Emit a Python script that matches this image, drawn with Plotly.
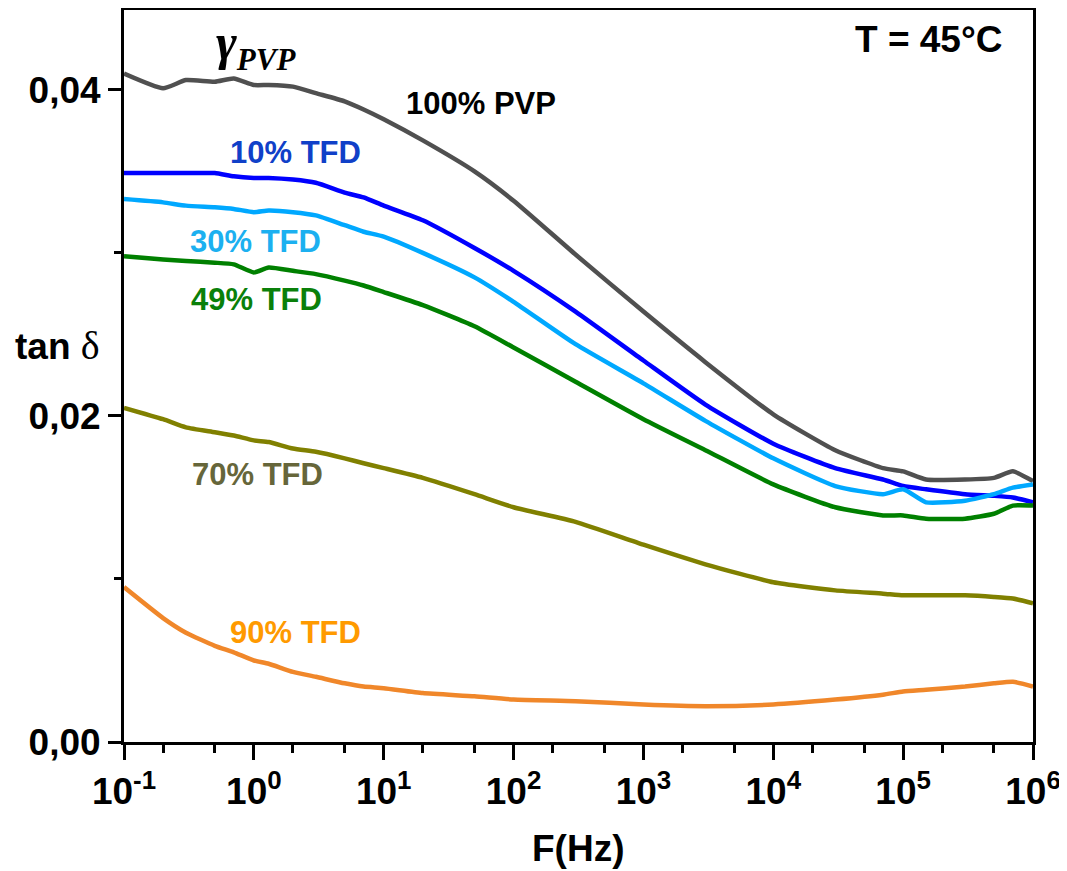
import plotly.graph_objects as go

freq = [0.1, 0.2, 0.3, 0.5, 0.7, 1, 1.3, 2, 3, 5, 7, 10, 20, 50, 100, 300, 1000, 3000,
        1e4, 3e4, 7e4, 1e5, 1.5e5, 3e5, 5e5, 7e5, 1e6]

pvp100 = [0.0410, 0.0401, 0.0406, 0.0405, 0.0407, 0.0403, 0.0403, 0.0402, 0.0398, 0.0393, 0.0388,
          0.0382, 0.0369, 0.0350, 0.0332, 0.0299, 0.0264, 0.0233, 0.0201, 0.0179, 0.0168, 0.0166,
          0.0161, 0.0161, 0.0162, 0.0166, 0.0160]
tfd10 = [0.0349, 0.0349, 0.0349, 0.0349, 0.0347, 0.0346, 0.0346, 0.0345, 0.0343, 0.0337, 0.0334,
         0.0329, 0.0320, 0.0303, 0.0289, 0.0264, 0.0234, 0.0207, 0.0183, 0.0168, 0.0161, 0.0157,
         0.0155, 0.0152, 0.0151, 0.0150, 0.0147]
tfd30 = [0.0333, 0.0331, 0.0329, 0.0328, 0.0327, 0.0325, 0.0326, 0.0325, 0.0323, 0.0317, 0.0313,
         0.0310, 0.0300, 0.0285, 0.0270, 0.0244, 0.0220, 0.0197, 0.0174, 0.0157, 0.0152, 0.0155,
         0.0147, 0.0148, 0.0152, 0.0156, 0.0158]
tfd49 = [0.0298, 0.0296, 0.0295, 0.0294, 0.0293, 0.0288, 0.0291, 0.0289, 0.0287, 0.0283, 0.0280,
         0.0276, 0.0268, 0.0255, 0.0242, 0.0221, 0.0198, 0.0179, 0.0158, 0.0144, 0.0139, 0.0139,
         0.0137, 0.0137, 0.0140, 0.0145, 0.0145]
tfd70 = [0.0205, 0.0198, 0.0193, 0.0190, 0.0188, 0.0185, 0.0184, 0.0180, 0.0178, 0.0174, 0.0171,
         0.0168, 0.0162, 0.0152, 0.0144, 0.0135, 0.0121, 0.0109, 0.0098, 0.0093, 0.0091, 0.0090,
         0.0090, 0.0090, 0.0089, 0.0088, 0.0085]
tfd90 = [0.0095, 0.0076, 0.0067, 0.0059, 0.0055, 0.0050, 0.0048, 0.0043, 0.0040, 0.0036, 0.0034,
         0.0033, 0.0030, 0.0028, 0.0026, 0.0025, 0.0023, 0.0022, 0.0023, 0.0026, 0.0029, 0.0031,
         0.0032, 0.0034, 0.0036, 0.0037, 0.0034]

series = [
    ("100% PVP", pvp100, "#505050"),
    ("10% TFD", tfd10, "#0000FF"),
    ("30% TFD", tfd30, "#00A8FF"),
    ("49% TFD", tfd49, "#008000"),
    ("70% TFD", tfd70, "#808000"),
    ("90% TFD", tfd90, "#F0872A"),
]

x_tickvals = [0.1, 1, 10, 100, 1000, 1e4, 1e5, 1e6]
x_ticktext = ["10<sup>-1</sup>", "10<sup>0</sup>", "10<sup>1</sup>", "10<sup>2</sup>",
              "10<sup>3</sup>", "10<sup>4</sup>", "10<sup>5</sup>", "10<sup>6</sup>"]
y_tickvals = [0.0, 0.02, 0.04]
y_ticktext = ["0,00", "0,02", "0,04"]
y_minor = [0.01, 0.03]

labels = [
    ("100% PVP", 0.393, 0.872, "#000000"),
    ("10% TFD", 0.189, 0.806, "#1040C8"),
    ("30% TFD", 0.145, 0.684, "#1CB0F0"),
    ("49% TFD", 0.146, 0.605, "#0A800A"),
    ("70% TFD", 0.147, 0.365, "#66663A"),
    ("90% TFD", 0.189, 0.149, "#FF9A00"),
]

FONT = "Arial, Liberation Sans, sans-serif"
SERIF = "Liberation Serif, Times New Roman, serif"

fig = go.Figure()
for name, vals, col in series:
    fig.add_trace(go.Scatter(x=freq, y=vals, mode="lines", name=name,
                             line=dict(color=col, width=4.5, shape="spline", smoothing=0.5),
                             showlegend=False))

for txt, xp, yp, col in labels:
    fig.add_annotation(x=xp, y=yp, xref="paper", yref="paper", text=txt, showarrow=False,
                       xanchor="center", yanchor="middle",
                       font=dict(family=FONT, size=31, color=col, weight="bold"))

fig.add_annotation(x=0.145, y=0.952, xref="paper", yref="paper",
                   text="<i>γ<sub><span style='font-size:31px'>PVP</span></sub></i>",
                   showarrow=False, xanchor="center", yanchor="middle",
                   font=dict(family=SERIF, size=50, color="black", weight="bold"))
fig.add_annotation(x=0.885, y=0.960, xref="paper", yref="paper", text="T = 45°C", showarrow=False,
                   xanchor="center", yanchor="middle",
                   font=dict(family=FONT, size=37, color="black", weight="bold"))
fig.add_annotation(x=-0.0737, y=0.542, xref="paper", yref="paper",
                   text="<b>tan</b> <span style='font-family:Liberation Serif;font-size:40px'>δ</span>",
                   showarrow=False, xanchor="center", yanchor="middle",
                   font=dict(family=FONT, size=37, color="black"))
fig.add_annotation(x=0.4995, y=-0.145, xref="paper", yref="paper", text="F(Hz)", showarrow=False,
                   xanchor="center", yanchor="middle",
                   font=dict(family=FONT, size=37, color="black", weight="bold"))

# page body has an 8px margin: size the figure so the plot area lands where the reference has it
fig.update_layout(
    width=1059, height=863,
    margin=dict(l=116, r=34, t=2, b=129, autoexpand=False),
    plot_bgcolor="white", paper_bgcolor="white",
    font=dict(family=FONT, color="black"),
)
fig.update_xaxes(
    type="log", range=[-1, 6],
    showline=True, linecolor="black", linewidth=3, mirror=True,
    showgrid=False, zeroline=False,
    ticks="outside", ticklen=15, tickwidth=3, tickcolor="black",
    tickvals=x_tickvals, ticktext=x_ticktext,
    tickfont=dict(family=FONT, size=37, color="black", weight="bold"),
    minor=dict(ticks="outside", ticklen=8, tickwidth=2.5, tickcolor="black", showgrid=False),
)
fig.update_yaxes(
    range=[0, 0.0449],
    showline=True, linecolor="black", linewidth=3, mirror=True,
    showgrid=False, zeroline=False,
    ticks="outside", ticklen=13, tickwidth=3, tickcolor="black",
    tickvals=y_tickvals, ticktext=y_ticktext,
    tickfont=dict(family=FONT, size=37, color="black", weight="bold"),
    minor=dict(ticks="outside", ticklen=7, tickwidth=2.5, tickcolor="black",
               tickvals=y_minor, showgrid=False),
)

fig.write_html("out.html")
